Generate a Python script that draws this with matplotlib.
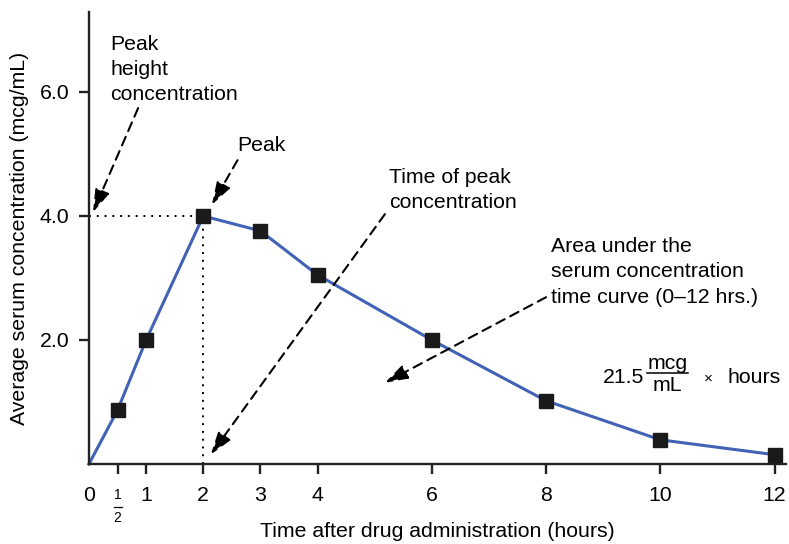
import matplotlib
matplotlib.use("Agg")
import matplotlib.pyplot as plt

plt.rcParams['font.family'] = ['Liberation Sans', 'DejaVu Sans']

hours = [0, 0.5, 1, 2, 3, 4, 6, 8, 10, 12]
conc = [0.0, 0.87, 2.0, 4.0, 3.76, 3.05, 2.0, 1.02, 0.39, 0.15]
xticks = [0.5, 1, 2, 3, 4, 6, 8, 10, 12]
xticklabels = ["", "1", "2", "3", "4", "6", "8", "10", "12"]
yticks = [2.0, 4.0, 6.0]
yticklabels = ["2.0", "4.0", "6.0"]

FS = 15.3
LS = 1.42

fig = plt.figure(figsize=(7.89, 5.44), dpi=100)
ax = fig.add_axes([89/789, 1-464/544, 697/789, 452/544])
ax.set_xlim(0, 12.2)
ax.set_ylim(0, 7.29)

ax.plot(hours, conc, color='#4262b6', lw=2.2, zorder=2, clip_on=False)
ax.plot(hours[1:], conc[1:], ls='none', marker='s', ms=9.5, color='#1a1a1a', zorder=3, clip_on=False)

# dotted guides
ax.plot([0, 2], [4, 4], ls=(0, (1, 3)), color='black', lw=1.4)
ax.plot([2, 2], [0, 4], ls=(0, (1, 3)), color='black', lw=1.4)

for s in ['top', 'right']:
    ax.spines[s].set_visible(False)
for s in ['left', 'bottom']:
    ax.spines[s].set_linewidth(1.7)
    ax.spines[s].set_color('#222222')

ax.set_xticks(xticks)
ax.set_xticklabels(xticklabels, fontsize=FS)
ax.set_yticks(yticks)
ax.set_yticklabels(yticklabels, fontsize=FS)
ax.tick_params(axis='x', direction='out', length=7, width=1.7, color='#222222', pad=9)
ax.tick_params(axis='y', direction='out', length=7, width=1.7, color='#222222', pad=7)

# 0 label and 1/2 fraction
ax.text(0, -0.5, "0", ha='center', va='center', fontsize=FS, clip_on=False)
ax.text(0.5, -0.5, "1", ha='center', va='center', fontsize=10, clip_on=False)
ax.plot([0.43, 0.57], [-0.69, -0.69], color='black', lw=0.9, clip_on=False)
ax.text(0.5, -0.87, "2", ha='center', va='center', fontsize=10, clip_on=False)

ax.set_xlabel("Time after drug administration (hours)", fontsize=FS, labelpad=12)
ax.set_ylabel("Average serum concentration (mcg/mL)", fontsize=FS, labelpad=8)

arrowkw = dict(arrowstyle='-|>,head_length=1.4,head_width=0.45', ls=(0, (4.5, 3)), lw=1.5,
               color='black', shrinkA=0, shrinkB=0)

ax.text(0.37, 6.36, "Peak\nheight\nconcentration", fontsize=FS, va='center', ha='left', linespacing=LS)
ax.annotate("", xy=(0.07, 4.06), xytext=(0.86, 5.74), arrowprops=arrowkw)

ax.text(2.59, 5.13, "Peak", fontsize=FS, va='center', ha='left')
ax.annotate("", xy=(2.15, 4.18), xytext=(2.6, 4.9), arrowprops=arrowkw)

ax.text(5.25, 4.42, "Time of peak\nconcentration", fontsize=FS, va='center', ha='left', linespacing=LS)
ax.annotate("", xy=(2.13, 0.15), xytext=(5.18, 4.03), arrowprops=arrowkw)

ax.text(8.08, 3.10, "Area under the\nserum concentration\ntime curve (0\u201312 hrs.)", fontsize=FS,
        va='center', ha='left', linespacing=LS)
ax.annotate("", xy=(5.18, 1.31), xytext=(8.0, 2.69), arrowprops=arrowkw)

ax.text(8.99, 1.39, "21.5", fontsize=FS, va='center', ha='left')
ax.text(10.12, 1.62, "mcg", fontsize=FS, va='center', ha='center')
ax.plot([9.76, 10.48], [1.47, 1.47], color='black', lw=1.1)
ax.text(10.12, 1.26, "mL", fontsize=FS, va='center', ha='center')
ax.text(10.85, 1.37, "\u00d7", fontsize=11, va='center', ha='center')
ax.text(11.18, 1.39, "hours", fontsize=FS, va='center', ha='left')

fig.savefig("out.png", dpi=100)
